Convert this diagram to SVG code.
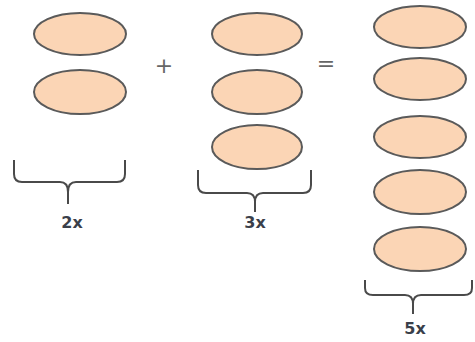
<svg xmlns="http://www.w3.org/2000/svg" width="475" height="342" viewBox="0 0 475 342">
<style>
.o{fill:#fbd5b5;stroke:#5a5a5a;stroke-width:2}
.b{fill:none;stroke:#4a4a4a;stroke-width:2}
.t{font-family:"DejaVu Sans",sans-serif;font-size:16px;font-weight:bold;fill:#3a3f4a;text-anchor:middle}
.s{font-family:"DejaVu Sans",sans-serif;font-size:22px;fill:#666;text-anchor:middle}
</style>
<rect width="475" height="342" fill="#fff"/>
<g id="group-2x">
<ellipse class="o" cx="80" cy="34" rx="46" ry="21"/>
<ellipse class="o" cx="80" cy="92" rx="46" ry="22"/>
<path class="b" d="M14,160 L14,174 Q14,182 22,182 L60,182 Q68,182 68,192 L68,204 M68,192 Q68,182 76,182 L117,182 Q125,182 125,174 L125,160"/>
<text class="t" x="72" y="228">2x</text>
</g>
<g id="plus"><text class="s" x="164" y="73">+</text></g>
<g id="group-3x">
<ellipse class="o" cx="257" cy="34" rx="45" ry="21"/>
<ellipse class="o" cx="257" cy="92" rx="45" ry="22"/>
<ellipse class="o" cx="257" cy="147" rx="45" ry="22"/>
<path class="b" d="M198,170 L198,185 Q198,193 206,193 L247,193 Q255,193 255,202 L255,212 M255,202 Q255,193 263,193 L303,193 Q311,193 311,185 L311,170"/>
<text class="t" x="255" y="228">3x</text>
</g>
<g id="equals"><text class="s" x="326" y="71">=</text></g>
<g id="group-5x">
<ellipse class="o" cx="420" cy="27" rx="46" ry="21"/>
<ellipse class="o" cx="420" cy="79" rx="46" ry="21"/>
<ellipse class="o" cx="420" cy="137" rx="46" ry="21"/>
<ellipse class="o" cx="420" cy="192" rx="46" ry="22"/>
<ellipse class="o" cx="420" cy="249" rx="46" ry="22"/>
<path class="b" d="M365,280 L365,288 Q365,295 373,295 L405,295 Q413,295 413,304 L413,314 M413,304 Q413,295 421,295 L464,295 Q472,295 472,288 L472,280"/>
<text class="t" x="415" y="334">5x</text>
</g>
</svg>
